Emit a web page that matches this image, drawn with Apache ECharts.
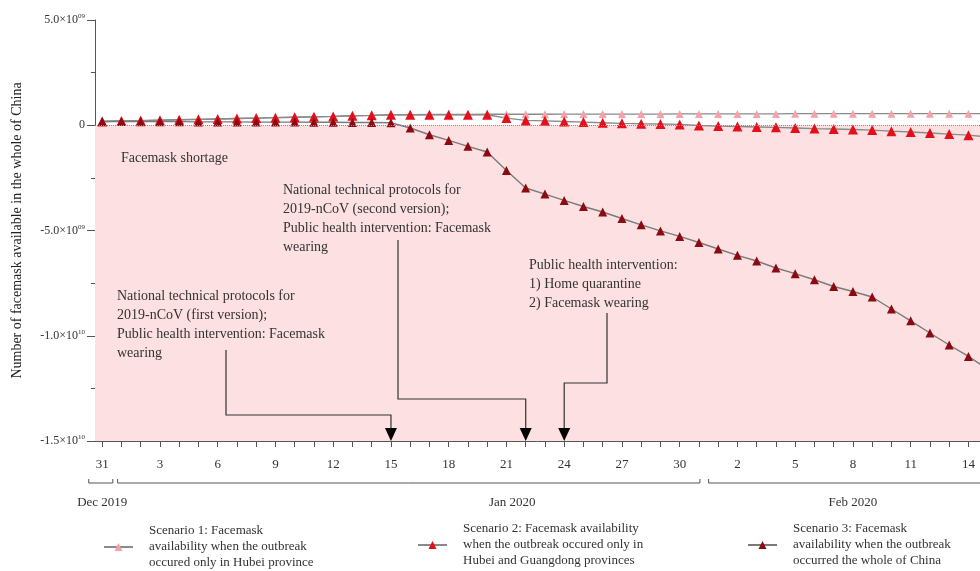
<!DOCTYPE html>
<html><head><meta charset="utf-8">
<script src="https://cdn.jsdelivr.net/npm/echarts@6/dist/echarts.min.js"></script>
<style>html,body{margin:0;padding:0;background:#fff}#c{width:980px;height:571px}#err{position:absolute;left:0;top:0;font:12px sans-serif;color:blue}</style>
</head><body><div id="c"></div><div id="err"></div>
<script>
// ---- data ----
const dayIndex = [0,1,2,3,4,5,6,7,8,9,10,11,12,13,14,15,16,17,18,19,20,21,22,23,24,25,26,27,28,29,30,31,32,33,34,35,36,37,38,39,40,41,42,43,44,45,46];
const dayOfMonth = ['31','1','2','3','4','5','6','7','8','9','10','11','12','13','14','15','16','17','18','19','20','21','22','23','24','25','26','27','28','29','30','31','1','2','3','4','5','6','7','8','9','10','11','12','13','14','15'];
const labelDays = [0,3,6,9,12,15,18,21,24,27,30,33,36,39,42,45];
const yTickLabels = {'5':'5.0×10{s|09}','0':'0','-5':'-5.0×10{s|09}','-10':'-1.0×10{s|10}','-15':'-1.5×10{s|10}'};
// values in units of 1e9 facemasks
const scenario1 = [0.18,0.20,0.22,0.24,0.26,0.28,0.30,0.32,0.34,0.36,0.38,0.40,0.42,0.45,0.47,0.50,0.50,0.51,0.51,0.51,0.52,0.52,0.52,0.52,0.53,0.53,0.53,0.53,0.53,0.53,0.54,0.54,0.54,0.54,0.54,0.54,0.55,0.55,0.55,0.55,0.55,0.55,0.55,0.55,0.55,0.55,0.55];
const scenario2 = [0.18,0.20,0.22,0.24,0.26,0.28,0.30,0.32,0.34,0.36,0.38,0.40,0.42,0.45,0.47,0.50,0.50,0.50,0.50,0.50,0.50,0.34,0.23,0.21,0.18,0.15,0.12,0.09,0.07,0.06,0.04,-0.01,-0.04,-0.06,-0.08,-0.10,-0.13,-0.16,-0.18,-0.20,-0.23,-0.28,-0.32,-0.37,-0.42,-0.47,-0.56];
const scenario3 = [0.18,0.18,0.17,0.17,0.17,0.16,0.16,0.16,0.15,0.15,0.15,0.14,0.14,0.13,0.13,0.12,-0.13,-0.45,-0.72,-1.00,-1.27,-2.15,-2.98,-3.27,-3.57,-3.86,-4.12,-4.43,-4.73,-5.02,-5.28,-5.57,-5.88,-6.18,-6.45,-6.78,-7.05,-7.34,-7.66,-7.90,-8.16,-8.73,-9.29,-9.87,-10.44,-10.98,-11.6];
const seriesNames = ['Scenario 1','Scenario 2','Scenario 3'];
const legendTexts = {
  'Scenario 1':'Scenario 1: Facemask\navailability when the outbreak\noccured only in Hubei province',
  'Scenario 2':'Scenario 2: Facemask availability\nwhen the outbreak occured only in\nHubei and Guangdong provinces',
  'Scenario 3':'Scenario 3: Facemask\navailability when the outbreak\noccurred the whole of China'
};
const annotations = [
  {text:'National technical protocols for\n2019-nCoV (first version);\nPublic health intervention: Facemask\nwearing', day:15},
  {text:'National technical protocols for\n2019-nCoV (second version);\nPublic health intervention: Facemask\nwearing', day:22},
  {text:'Public health intervention:\n1) Home quarantine\n2) Facemask wearing', day:24}
];
const months = [
  {label:'Dec 2019', from:-0.7, to:0.55, at:0},
  {label:'Jan 2020', from:0.8, to:31.05, at:21.3},
  {label:'Feb 2020', from:31.5, to:46.5, at:39}
];
const xMin = -0.375, xMax = 45.6;

const SERIF = '"Liberation Serif","DejaVu Serif",serif';
const chart = echarts.init(document.getElementById('c'));
const zip = arr => dayIndex.map((d,i)=>[d,arr[i]]);

const lineBase = {type:'line', symbol:'triangle', clip:true, lineStyle:{color:'#8a8a8a', width:1.4}, animation:false, z:3};

chart.setOption({
  backgroundColor:'#fff',
  animation:false,
  grid:{left:95, top:20, right:0, height:421, containLabel:false},
  xAxis:{type:'value', min:xMin, max:xMax,
    axisLine:{show:true, onZero:false, lineStyle:{color:'#555', width:1}},
    axisTick:{show:true, customValues:dayIndex.filter(d=>d<=xMax), length:6, lineStyle:{color:'#555'}},
    axisLabel:{customValues:labelDays, formatter:v=>dayOfMonth[v], margin:17, fontFamily:SERIF, fontSize:13, color:'#333'},
    splitLine:{show:false}},
  yAxis:{type:'value', min:-15, max:5, interval:5,
    name:'Number of facemask available in the whole of China', nameLocation:'middle', nameGap:71,
    nameTextStyle:{fontFamily:SERIF, fontSize:14, color:'#222'},
    axisLine:{show:true, onZero:false, lineStyle:{color:'#555', width:1}},
    axisTick:{show:true, length:8, lineStyle:{color:'#555'}},
    minorTick:{show:true, splitNumber:2, length:4, lineStyle:{color:'#555'}},
    axisLabel:{margin:10, fontFamily:SERIF, fontSize:12, color:'#333',
      formatter:v=>yTickLabels[String(v)],
      rich:{s:{fontSize:7, fontFamily:SERIF, color:'#333', padding:[0,0,7,0]}}},
    splitLine:{show:false}},
  legend: seriesNames.map((n,i)=>({
    data:[n], orient:'vertical', padding:0,
    left:[103,417,747][i], top:[523,521,521][i],
    itemWidth:29, itemHeight:10,
    formatter:name=>legendTexts[name],
    textStyle:{fontFamily:SERIF, fontSize:13, color:'#333', lineHeight:16, padding:[0,0,0,11]}
  })),
  series:[
    Object.assign({}, lineBase, {name:seriesNames[0], data:zip(scenario1), symbolSize:8,
      itemStyle:{color:'#f3a3a9'},
      markArea:{silent:true, itemStyle:{color:'#fde0e1'}, data:[[{xAxis:xMin, yAxis:0},{xAxis:xMax, yAxis:-15}]]},
      markLine:{silent:true, symbol:'none', label:{show:false}, lineStyle:{color:'#b07a7a', type:'dotted', width:1}, data:[[{xAxis:xMin, yAxis:0},{xAxis:xMax, yAxis:0}]]}
    }),
    Object.assign({}, lineBase, {name:seriesNames[1], data:zip(scenario2), symbolSize:10, itemStyle:{color:'#e3101b'}}),
    Object.assign({}, lineBase, {name:seriesNames[2], data:zip(scenario3), symbolSize:9, itemStyle:{color:'#8c0a12'}, lineStyle:{color:'#7a7a7a', width:1.4}})
  ]
});

// ---- annotations / month brackets placed via axis scales ----
try {
const px = d => chart.convertToPixel({xAxisIndex:0}, d);
const py = v => chart.convertToPixel({yAxisIndex:0}, v);
const yBottom = py(-15);
const ink = '#333';
const g = [];
g.push({type:'text', z:10, style:{text:'Facemask shortage', x:121, y:151, font:'14px '+SERIF, fill:ink, verticalAlign:'top'}});
const annoBox = [
  {x:117, y:287, lineX:226, lineTop:350, elbow:415},
  {x:283, y:181, lineX:398, lineTop:240, elbow:399},
  {x:529, y:256, lineX:607, lineTop:313, elbow:383}
];
annotations.forEach((a,i)=>{
  const b = annoBox[i];
  const ax = px(a.day);
  g.push({type:'text', z:10, style:{text:a.text, x:b.x, y:b.y, font:'14px '+SERIF, fill:ink, lineHeight:19, verticalAlign:'top'}});
  g.push({type:'polyline', z:10, shape:{points:[[b.lineX,b.lineTop],[b.lineX,b.elbow],[ax,b.elbow],[ax,yBottom-12]]}, style:{stroke:'#333', lineWidth:1.2, fill:'none'}});
  g.push({type:'polygon', z:10, shape:{points:[[ax-6,yBottom-13],[ax+6,yBottom-13],[ax,yBottom]]}, style:{fill:'#000'}});
});
months.forEach(m=>{
  const x1 = px(m.from), x2 = px(m.to);
  g.push({type:'polyline', z:10, shape:{points:[[x1,479],[x1,483],[x2,483],[x2,479]]}, style:{stroke:'#555', lineWidth:1, fill:'none'}});
  g.push({type:'text', z:10, style:{text:m.label, x:px(m.at), y:503, font:'13px '+SERIF, fill:ink, align:'center', verticalAlign:'middle'}});
});
chart.setOption({graphic:{elements:g}});
} catch(e) { document.getElementById('err').textContent = 'ERR: ' + e.message; }
</script></body></html>
